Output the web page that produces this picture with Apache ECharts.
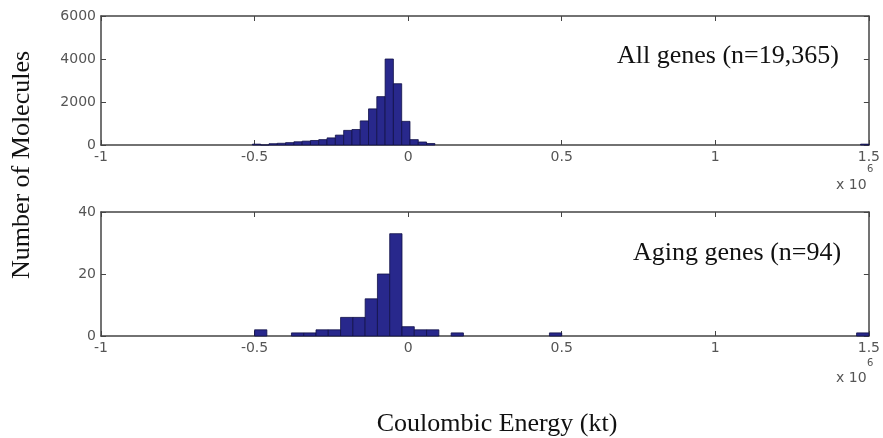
<!DOCTYPE html>
<html>
<head>
<meta charset="utf-8">
<script src="https://cdn.jsdelivr.net/npm/echarts@6/dist/echarts.min.js"></script>
<style>
  html, body { margin: 0; padding: 0; background: #fff; }
  #main { width: 883px; height: 438px; }
</style>
</head>
<body>
<div id="main"></div>
<script>
// x values are in units of 10^6 kt
var xTicks = [-1, -0.5, 0, 0.5, 1, 1.5];

// all genes: left edge of each bin and its count
var topBinWidth = 0.027;
var topLeft = [-0.507, -0.480, -0.453, -0.426, -0.399, -0.372, -0.345, -0.318, -0.291, -0.264,
               -0.237, -0.210, -0.183, -0.156, -0.129, -0.102, -0.075, -0.048, -0.021, 0.006,
               0.033, 0.060, 1.473];
var topCounts = [40, 0, 60, 80, 110, 150, 180, 210, 250, 330,
                 460, 680, 720, 1120, 1680, 2250, 4000, 2850, 1100, 250,
                 140, 70, 40];

// aging genes
var botBinWidth = 0.04;
var botLeft = [-0.50, -0.38, -0.34, -0.30, -0.26, -0.22, -0.18, -0.14, -0.10, -0.06,
               -0.02, 0.02, 0.06, 0.14, 0.46, 1.46];
var botCounts = [2, 1, 1, 2, 2, 6, 6, 12, 20, 33,
                 3, 2, 2, 1, 1, 1];

function bins(lefts, counts, w) {
    var out = [];
    for (var i = 0; i < lefts.length; i++) {
        out.push([lefts[i], lefts[i] + w, counts[i]]);
    }
    return out;
}

function renderBar(params, api) {
    var p0 = api.coord([api.value(0), api.value(2)]);
    var p1 = api.coord([api.value(1), 0]);
    return {
        type: 'rect',
        shape: { x: p0[0], y: p0[1], width: p1[0] - p0[0], height: p1[1] - p0[1] },
        style: { fill: '#28288c', stroke: '#101048', lineWidth: 0.8 }
    };
}

var labelFont = { color: '#555', fontSize: 14, fontFamily: 'DejaVu Sans' };
var lineStyle = { color: '#444', width: 1.5 };

function xAxis(grid, bottom) {
    return {
        type: 'value', gridIndex: grid, min: -1, max: 1.5, interval: 0.5,
        position: bottom ? 'bottom' : 'top',
        axisLine: { show: true, onZero: false, lineStyle: lineStyle },
        axisTick: { show: true, inside: true, length: 5, lineStyle: { color: '#444' } },
        axisLabel: bottom ? Object.assign({ show: true, margin: 5 }, labelFont) : { show: false },
        splitLine: { show: false }
    };
}
function yAxis(grid, max, step, left) {
    return {
        type: 'value', gridIndex: grid, min: 0, max: max, interval: step,
        position: left ? 'left' : 'right',
        axisLine: { show: true, onZero: false, lineStyle: lineStyle },
        axisTick: { show: true, inside: true, length: 5, lineStyle: { color: '#444' } },
        axisLabel: left ? Object.assign({ show: true, margin: 5, formatter: function (v) { return String(v); } }, labelFont) : { show: false },
        splitLine: { show: false }
    };
}

var myChart = echarts.init(document.getElementById('main'));
var option = {
    backgroundColor: '#fff',
    animation: false,
    grid: [
        { left: 101, right: 11, top: 16, height: 129 },
        { left: 101, right: 11, top: 212, height: 124 }
    ],
    xAxis: [xAxis(0, true), xAxis(0, false), xAxis(1, true), xAxis(1, false)],
    yAxis: [yAxis(0, 6000, 2000, true), yAxis(0, 6000, 2000, false),
            yAxis(1, 40, 20, true), yAxis(1, 40, 20, false)],
    series: [
        {
            type: 'custom', xAxisIndex: 0, yAxisIndex: 0,
            renderItem: renderBar, encode: { x: [0, 1], y: 2 },
            data: bins(topLeft, topCounts, topBinWidth)
        },
        {
            type: 'custom', xAxisIndex: 2, yAxisIndex: 2,
            renderItem: renderBar, encode: { x: [0, 1], y: 2 },
            data: bins(botLeft, botCounts, botBinWidth)
        }
    ],
    graphic: [
        { type: 'text', left: 617, top: 43, style: { text: 'All genes (n=19,365)', font: '26px "Liberation Serif"', fill: '#111' } },
        { type: 'text', left: 633, top: 240, style: { text: 'Aging genes (n=94)', font: '26px "Liberation Serif"', fill: '#111' } },
        { type: 'text', x: 22, y: 165, rotation: Math.PI / 2, style: { text: 'Number of Molecules', font: '26px "Liberation Serif"', fill: '#111', align: 'center', verticalAlign: 'middle' } },
        { type: 'text', x: 497, y: 424, style: { text: 'Coulombic Energy (kt)', font: '26px "Liberation Serif"', fill: '#111', align: 'center', verticalAlign: 'middle' } },
        { type: 'text', left: 836, top: 178, style: { text: 'x 10', font: '14px "DejaVu Sans"', fill: '#555' } },
        { type: 'text', left: 867, top: 164, style: { text: '6', font: '10px "DejaVu Sans"', fill: '#555' } },
        { type: 'text', left: 836, top: 371, style: { text: 'x 10', font: '14px "DejaVu Sans"', fill: '#555' } },
        { type: 'text', left: 867, top: 358, style: { text: '6', font: '10px "DejaVu Sans"', fill: '#555' } }
    ]
};
myChart.setOption(option);
</script>
</body>
</html>
